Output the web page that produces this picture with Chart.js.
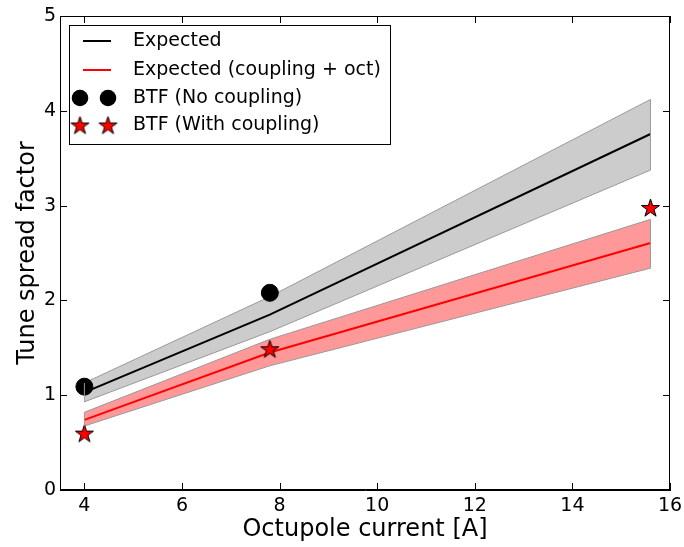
<!DOCTYPE html>
<html>
<head>
<meta charset="utf-8">
<script src="https://cdn.jsdelivr.net/npm/chart.js@4"></script>
<style>
body{margin:0;background:#fff}
#wrap{width:684px;height:547px}
</style>
</head>
<body>
<div id="wrap"><canvas id="tuneChart" width="684" height="547"></canvas></div>
<script>
// data
const xTicks=[4,6,8,10,12,14,16];
const yTicks=[0,1,2,3,4,5];
const currents=[4,7.8,15.6];
const expected=[1.03,1.85,3.755];
const expectedLow=[0.93,1.67,3.375];
const expectedHigh=[1.13,2.04,4.12];
const expectedCoupled=[0.74,1.45,2.605];
const coupledLow=[0.675,1.31,2.34];
const coupledHigh=[0.82,1.59,2.855];
const btfNoCouplingX=[4,7.8];
const btfNoCoupling=[1.09,2.08];
const btfCouplingX=[4,7.8,15.6];
const btfCoupling=[0.6,1.49,2.98];

const FONT='"DejaVu Sans", sans-serif';
const pts=(xs,ys)=>xs.map((x,i)=>({x,y:ys[i]}));

// filled red star like the matplotlib '*' marker
function starPath(c,cx,cy,R){
  const r=R*0.382;
  c.beginPath();
  for(let i=0;i<10;i++){
    const a=-Math.PI/2+i*Math.PI/5;
    const rr=i%2?r:R;
    c.lineTo(cx+rr*Math.cos(a),cy+rr*Math.sin(a));
  }
  c.closePath();
}
function makeStar(R){
  const s=document.createElement('canvas');
  s.width=s.height=Math.ceil(R*2+4);
  const c=s.getContext('2d');
  starPath(c,s.width/2,s.height/2+1,R);
  c.fillStyle='#ff0000';c.fill();
  c.lineWidth=1;c.strokeStyle='#000';c.stroke();
  return s;
}
const star=makeStar(9.5);

// frame + inward ticks on all four sides, band end edges, legend
const framePlugin={
  id:'frame',
  afterDatasetsDraw(chart){
    const {ctx,chartArea:a,scales:{x,y}}=chart;
    ctx.save();
    ctx.strokeStyle='#999';ctx.lineWidth=1;
    [[expectedLow,expectedHigh],[coupledLow,coupledHigh]].forEach(([lo,hi])=>{
      [0,currents.length-1].forEach(i=>{
        const px=x.getPixelForValue(currents[i]);
        ctx.beginPath();ctx.moveTo(px,y.getPixelForValue(lo[i]));ctx.lineTo(px,y.getPixelForValue(hi[i]));ctx.stroke();
      });
    });
    ctx.strokeStyle='#000';
    ctx.strokeRect(a.left+0.5,a.top+0.5,a.right-a.left-1,a.bottom-a.top-1);
    ctx.beginPath();
    x.ticks.forEach(t=>{
      const px=Math.round(x.getPixelForValue(t.value))+0.5;
      ctx.moveTo(px,a.bottom);ctx.lineTo(px,a.bottom-7);
      ctx.moveTo(px,a.top);ctx.lineTo(px,a.top+7);
    });
    y.ticks.forEach(t=>{
      const py=Math.round(y.getPixelForValue(t.value))+0.5;
      ctx.moveTo(a.left,py);ctx.lineTo(a.left+7,py);
      ctx.moveTo(a.right,py);ctx.lineTo(a.right-7,py);
    });
    ctx.stroke();
    ctx.restore();
  },
  afterDraw(chart){
    const {ctx}=chart;
    const L=69,T=25,W=321,H=119;
    ctx.save();
    ctx.fillStyle='#fff';ctx.fillRect(L,T,W,H);
    ctx.strokeStyle='#000';ctx.lineWidth=1;ctx.strokeRect(L+0.5,T+0.5,W,H);
    const rows=[41,70,98,125];
    ctx.lineWidth=2;
    ctx.strokeStyle='#000';ctx.beginPath();ctx.moveTo(83,rows[0]);ctx.lineTo(111,rows[0]);ctx.stroke();
    ctx.strokeStyle='#ff0000';ctx.beginPath();ctx.moveTo(83,rows[1]);ctx.lineTo(111,rows[1]);ctx.stroke();
    ctx.fillStyle='#000';
    [80,108].forEach(cx=>{ctx.beginPath();ctx.arc(cx,rows[2],8.3,0,Math.PI*2);ctx.fill();});
    [80,108].forEach(cx=>ctx.drawImage(star,cx-star.width/2,rows[3]-star.height/2));
    const labels=['Expected','Expected (coupling + oct)','BTF (No coupling)','BTF (With coupling)'];
    ctx.font='19px '+FONT;ctx.fillStyle='#000';ctx.textBaseline='middle';ctx.textAlign='left';
    labels.forEach((l,i)=>ctx.fillText(l,133,rows[i]));
    ctx.restore();
  }
};

const ctx=document.getElementById('tuneChart').getContext('2d');
new Chart(ctx,{
  type:'scatter',
  data:{datasets:[
    {label:'BTF (No coupling)',data:pts(btfNoCouplingX,btfNoCoupling),pointStyle:'circle',pointRadius:8.5,pointHoverRadius:8.5,backgroundColor:'#000',borderColor:'#000',showLine:false,order:0},
    {label:'BTF (With coupling)',data:pts(btfCouplingX,btfCoupling),pointStyle:star,pointRadius:10,showLine:false,order:0},
    {label:'Expected',data:pts(currents,expected),showLine:true,borderColor:'#000',borderWidth:2,pointRadius:0,fill:false,order:1},
    {label:'Expected (coupling + oct)',data:pts(currents,expectedCoupled),showLine:true,borderColor:'#ff0000',borderWidth:2,pointRadius:0,fill:false,order:1},
    {label:'exp low',data:pts(currents,expectedLow),showLine:true,borderColor:'#999',borderWidth:1,pointRadius:0,fill:false,order:2},
    {label:'exp high',data:pts(currents,expectedHigh),showLine:true,borderColor:'#999',borderWidth:1,pointRadius:0,fill:'-1',backgroundColor:'#cccccc',order:2},
    {label:'coup low',data:pts(currents,coupledLow),showLine:true,borderColor:'#999',borderWidth:1,pointRadius:0,fill:false,order:2},
    {label:'coup high',data:pts(currents,coupledHigh),showLine:true,borderColor:'#999',borderWidth:1,pointRadius:0,fill:'-1',backgroundColor:'#ff9999',order:2}
  ]},
  options:{
    responsive:false,devicePixelRatio:1,animation:false,
    layout:{padding:{top:16,right:14,left:0,bottom:0}},
    plugins:{legend:{display:false},tooltip:{enabled:false}},
    scales:{
      x:{type:'linear',min:3.5,max:16,
        afterBuildTicks:s=>{s.ticks=xTicks.map(v=>({value:v}));},
        afterFit:s=>{s.height=57;s.paddingLeft=0;s.paddingRight=0;},
        grid:{drawOnChartArea:false,drawTicks:false},border:{color:'#000'},
        ticks:{font:{family:FONT,size:19},color:'#000',padding:5,maxRotation:0},
        title:{display:true,text:'Octupole current [A]',font:{family:FONT,size:24},color:'#000',padding:{top:0,bottom:3}}},
      y:{type:'linear',min:0,max:5,
        afterBuildTicks:s=>{s.ticks=yTicks.map(v=>({value:v}));},
        afterFit:s=>{s.width=60;s.paddingTop=0;s.paddingBottom=0;},
        grid:{drawOnChartArea:false,drawTicks:false},border:{color:'#000'},
        ticks:{font:{family:FONT,size:19},color:'#000',padding:4},
        title:{display:true,text:'Tune spread factor',font:{family:FONT,size:24},color:'#000',padding:{top:13,bottom:0}}}
    }
  },
  plugins:[framePlugin]
});
</script>
</body>
</html>
